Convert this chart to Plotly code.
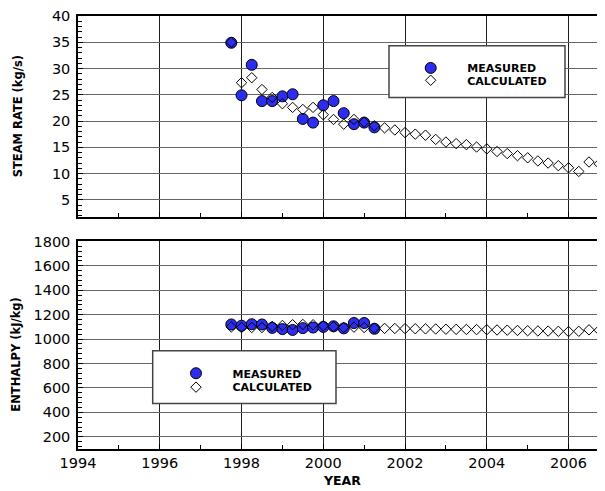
import plotly.graph_objects as go

# ---------------- data ----------------
years_meas = [1997.75, 1998.0, 1998.25, 1998.5, 1998.75, 1999.0, 1999.25, 1999.5,
              1999.75, 2000.0, 2000.25, 2000.5, 2000.75, 2001.0, 2001.25]
steam_meas = [34.9, 24.9, 30.7, 23.8, 23.8, 24.7, 25.1, 20.4, 19.7, 23.0, 23.8, 21.5,
              19.4, 19.7, 18.8]
enth_meas = [1120, 1110, 1122, 1120, 1092, 1082, 1075, 1090, 1095, 1100, 1105, 1088,
             1132, 1132, 1085]

years_calc = [1997.75, 1998.0, 1998.25, 1998.5, 1998.75, 1999.0, 1999.25, 1999.5,
              1999.75, 2000.0, 2000.25, 2000.5, 2000.75, 2001.0, 2001.25, 2001.5,
              2001.75, 2002.0, 2002.25, 2002.5, 2002.75, 2003.0, 2003.25, 2003.5,
              2003.75, 2004.0, 2004.25, 2004.5, 2004.75, 2005.0, 2005.25, 2005.5,
              2005.75, 2006.0, 2006.25, 2006.5, 2006.75]
steam_calc = [35.0, 27.3, 28.25, 26.0, 24.5, 23.3, 22.6, 22.2, 22.6, 21.2, 20.3, 19.4,
              20.3, 19.8, 19.1, 18.7, 18.3, 17.8, 17.5, 17.3, 16.5, 16.0, 15.7, 15.5,
              15.05, 14.7, 14.2, 13.8, 13.4, 13.0, 12.4, 12.0, 11.5, 11.1, 10.4, 12.2,
              11.85]
enth_calc = [1100, 1095, 1095, 1095, 1105, 1112, 1118, 1120, 1118, 1110, 1102, 1095,
             1098, 1095, 1090, 1088, 1087, 1086, 1085, 1084, 1083, 1081, 1080, 1079,
             1078, 1077, 1075, 1073, 1071, 1069, 1067, 1066, 1064, 1062, 1064, 1076,
             1073]

x_ticks = [1994, 1996, 1998, 2000, 2002, 2004, 2006]

# ---------------- style ----------------
FONT = "DejaVu Sans"
MEAS_COLOR = "#2d2df2"
OFF = 8                      # page body margin of the html page
W, H = 605 - OFF, 491 - OFF  # figure size so that it ends at the window edge
PLOT_L, PLOT_T, PLOT_B = 78, 13, 449   # plot area in window pixels
ML, MR, MT = PLOT_L - OFF, 0, PLOT_T - OFF
MB = OFF + H - PLOT_B
PW, PH = W - ML - MR, H - MT - MB


def px(x):
    return (x - PLOT_L) / PW


def py(y):
    return (PLOT_B - y) / PH


meas_marker = dict(symbol="circle", size=11, color=MEAS_COLOR,
                   line=dict(color="black", width=1))
calc_marker = dict(symbol="diamond-open", size=8, color="black",
                   line=dict(color="black", width=1))

fig = go.Figure()
fig.add_trace(go.Scatter(x=years_meas, y=steam_meas, mode="markers", name="MEASURED",
                         marker=meas_marker, xaxis="x", yaxis="y", legend="legend"))
fig.add_trace(go.Scatter(x=years_calc, y=steam_calc, mode="markers", name="CALCULATED",
                         marker=calc_marker, xaxis="x", yaxis="y", legend="legend2"))
fig.add_trace(go.Scatter(x=years_meas, y=enth_meas, mode="markers", name="MEASURED",
                         marker=meas_marker, xaxis="x2", yaxis="y2", legend="legend3"))
fig.add_trace(go.Scatter(x=years_calc, y=enth_calc, mode="markers", name="CALCULATED",
                         marker=calc_marker, xaxis="x2", yaxis="y2", legend="legend4"))

top_dom = [py(215), 1.0]
bot_dom = [0.0, py(240)]
xr = [1994, 1994 + (605 - PLOT_L) / 40.88]

xcommon = dict(range=xr, tickvals=x_ticks, showgrid=True, gridcolor="#1e1e1e", gridwidth=1,
               showline=True, linecolor="black", linewidth=1.5, mirror=True,
               ticks="inside", ticklen=5, tickcolor="black",
               minor=dict(dtick=1, tick0=1994, ticks="inside", ticklen=4, tickcolor="black",
                          showgrid=False),
               zeroline=False, tickfont=dict(family=FONT, size=14.5, color="black"))
ycommon = dict(showgrid=True, gridcolor="#666666", gridwidth=1,
               showline=True, linecolor="black", linewidth=1.5,
               ticks="inside", ticklen=5, tickcolor="black",
               zeroline=False, tickfont=dict(family=FONT, size=14.5, color="black"),
               ticklabelstandoff=3)

leg = dict(bgcolor="rgba(0,0,0,0)", borderwidth=0, itemwidth=63, xanchor="left",
           yanchor="middle", font=dict(family=FONT, size=11, color="black", weight="bold"))

fig.update_layout(
    width=W, height=H, margin=dict(l=ML, r=MR, t=MT, b=MB),
    paper_bgcolor="white", plot_bgcolor="white",
    font=dict(family=FONT, color="black"),
    xaxis=dict(xcommon, domain=[0, 1], anchor="y", showticklabels=False),
    yaxis=dict(ycommon, domain=top_dom, anchor="x", range=[1.8, 40], dtick=5,
               minor=dict(dtick=1, ticks="inside", ticklen=4, tickcolor="black", showgrid=False)),
    xaxis2=dict(xcommon, domain=[0, 1], anchor="y2", showticklabels=True),
    yaxis2=dict(ycommon, domain=bot_dom, anchor="x2", range=[100, 1800], dtick=200,
                minor=dict(dtick=40, tick0=0, ticks="inside", ticklen=4, tickcolor="black",
                           showgrid=False)),
    legend=dict(leg, x=px(430.7 - 36.5), y=py(65.3)),
    legend2=dict(leg, x=px(430.7 - 36.5), y=py(77.7)),
    legend3=dict(leg, x=px(196 - 36.5), y=py(372.7)),
    legend4=dict(leg, x=px(196 - 36.5), y=py(386.7)),
    showlegend=True,
    shapes=[
        dict(type="rect", xref="paper", yref="paper", x0=px(389), x1=px(565),
             y0=py(95), y1=py(43), fillcolor="white", line=dict(color="#444444", width=1.5),
             layer="above"),
        dict(type="rect", xref="paper", yref="paper", x0=px(152.7), x1=px(336),
             y0=py(403.3), y1=py(350), fillcolor="white", line=dict(color="#444444", width=1.5),
             layer="above"),
    ],
    annotations=[
        dict(text="<b>STEAM RATE (kg/s)</b>", xref="paper", yref="paper", x=px(18), y=py(114),
             textangle=-90, showarrow=False, font=dict(family=FONT, size=11.5, color="black"),
             xanchor="center", yanchor="middle"),
        dict(text="<b>ENTHALPY (kJ/kg)</b>", xref="paper", yref="paper", x=px(16), y=py(354),
             textangle=-90, showarrow=False, font=dict(family=FONT, size=11.5, color="black"),
             xanchor="center", yanchor="middle"),
        dict(text="<b>YEAR</b>", xref="paper", yref="paper", x=px(342), y=py(481),
             showarrow=False, font=dict(family=FONT, size=12.5, color="black"),
             xanchor="center", yanchor="middle"),
    ],
)

fig.write_html("out.html")
